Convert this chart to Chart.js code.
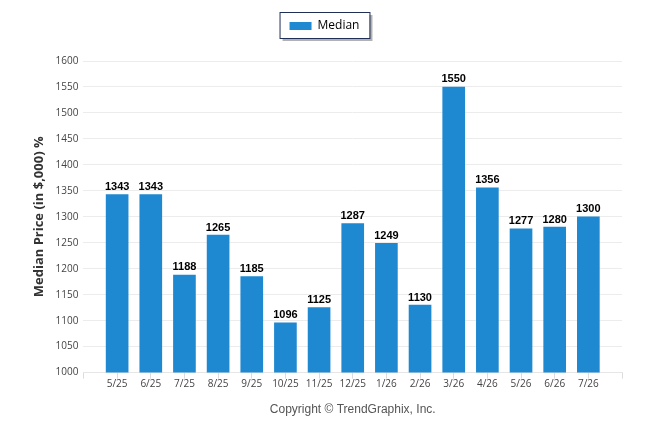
<!DOCTYPE html>
<html>
<head>
<meta charset="utf-8">
<script src="https://cdn.jsdelivr.net/npm/chart.js@4"></script>
<style>
  html, body { margin: 0; padding: 0; background: #fff; }
  #wrap { width: 646px; height: 434px; }
</style>
</head>
<body>
<div id="wrap"><canvas id="priceChart"></canvas></div>
<script>
// months shown on the x axis (blank slots at both ends give the edge ticks)
const months = ["5/25", "6/25", "7/25", "8/25", "9/25", "10/25", "11/25", "12/25",
                "1/26", "2/26", "3/26", "4/26", "5/26", "6/26", "7/26"];
const medianPrice = [1343, 1343, 1188, 1265, 1185, 1096, 1125, 1287,
                     1249, 1130, 1550, 1356, 1277, 1280, 1300];
const yMin = 1000;
const yMax = 1600;
const yStep = 50;

const labels = [""].concat(months, [""]);
const values = [null].concat(medianPrice, [null]);

// draws the numbers on top of each bar
const valueLabels = {
    id: "valueLabels",
    afterDatasetsDraw(chart) {
        const ctx = chart.ctx;
        const meta = chart.getDatasetMeta(0);
        ctx.save();
        ctx.font = "bold 11px 'Liberation Sans', Arial, sans-serif";
        ctx.fillStyle = "#000";
        ctx.textAlign = "center";
        ctx.textBaseline = "bottom";
        meta.data.forEach((bar, i) => {
            const v = values[i];
            if (v == null) return;
            ctx.fillText(v, bar.x, bar.y - 2);
        });
        ctx.restore();
    }
};

// box + shadow round the legend, plus extra room under it
const legendFrame = {
    id: "legendFrame",
    afterInit(chart) {
        const fit = chart.legend.fit;
        chart.legend.fit = function () {
            fit.call(this);
            this.height += 19;
        };
    },
    beforeDraw(chart) {
        const boxes = chart.legend && chart.legend.legendHitBoxes;
        if (!boxes || !boxes.length) return;
        const hb = boxes[0];
        const x = hb.left - 10;
        const y = hb.top - 8;
        const w = hb.width + 20;
        const h = 26;
        const ctx = chart.ctx;
        ctx.save();
        ctx.fillStyle = "rgba(0,0,0,0.3)";
        ctx.fillRect(x + 3, y + 3, w, h);
        ctx.fillStyle = "#fff";
        ctx.fillRect(x, y, w, h);
        ctx.strokeStyle = "#1f2f57";
        ctx.lineWidth = 1;
        ctx.strokeRect(x + 0.5, y + 0.5, w, h);
        ctx.restore();
    }
};

const ctx = document.getElementById("priceChart").getContext("2d");
const chart = new Chart(ctx, {
    type: "bar",
    data: {
        labels: labels,
        datasets: [{
            label: "Median",
            data: values,
            backgroundColor: "#1e88d0",
            borderWidth: 0,
            barThickness: 22
        }]
    },
    options: {
        responsive: true,
        maintainAspectRatio: false,
        animation: false,
        layout: { padding: { top: 6, right: 24, left: 27, bottom: 5 } },
        plugins: {
            legend: {
                position: "top",
                labels: {
                    boxWidth: 22,
                    boxHeight: 8,
                    padding: 14,
                    color: "#000",
                    font: { family: "'Open Sans', sans-serif", size: 12 }
                }
            },
            tooltip: { enabled: false }
        },
        scales: {
            x: {
                offset: false,
                grid: {
                    offset: false,
                    drawOnChartArea: false,
                    drawTicks: true,
                    tickLength: 6,
                    color: "#dcdcdc"
                },
                border: { color: "#e6e6e6" },
                ticks: {
                    autoSkip: false,
                    maxRotation: 0,
                    color: "#444",
                    font: { family: "'Open Sans', sans-serif", size: 10 },
                    padding: 0
                },
                title: {
                    display: true,
                    text: "Copyright \u00a9 TrendGraphix, Inc.",
                    color: "#555",
                    font: { family: "'Liberation Sans', Arial, sans-serif", size: 12 },
                    padding: { top: 12, bottom: 12 }
                }
            },
            y: {
                min: yMin,
                max: yMax,
                grid: { color: "#ececec", drawTicks: false },
                border: { display: false },
                ticks: {
                    stepSize: yStep,
                    color: "#444",
                    font: { family: "'Open Sans', sans-serif", size: 10 },
                    padding: 5,
                    callback: v => String(v)
                },
                title: {
                    display: true,
                    text: "Median Price (in $,000) %",
                    color: "#333",
                    font: { family: "'Open Sans', sans-serif", size: 13, weight: "bold" },
                    padding: { bottom: 4 }
                }
            }
        }
    },
    plugins: [legendFrame, valueLabels]
});
</script>
</body>
</html>
